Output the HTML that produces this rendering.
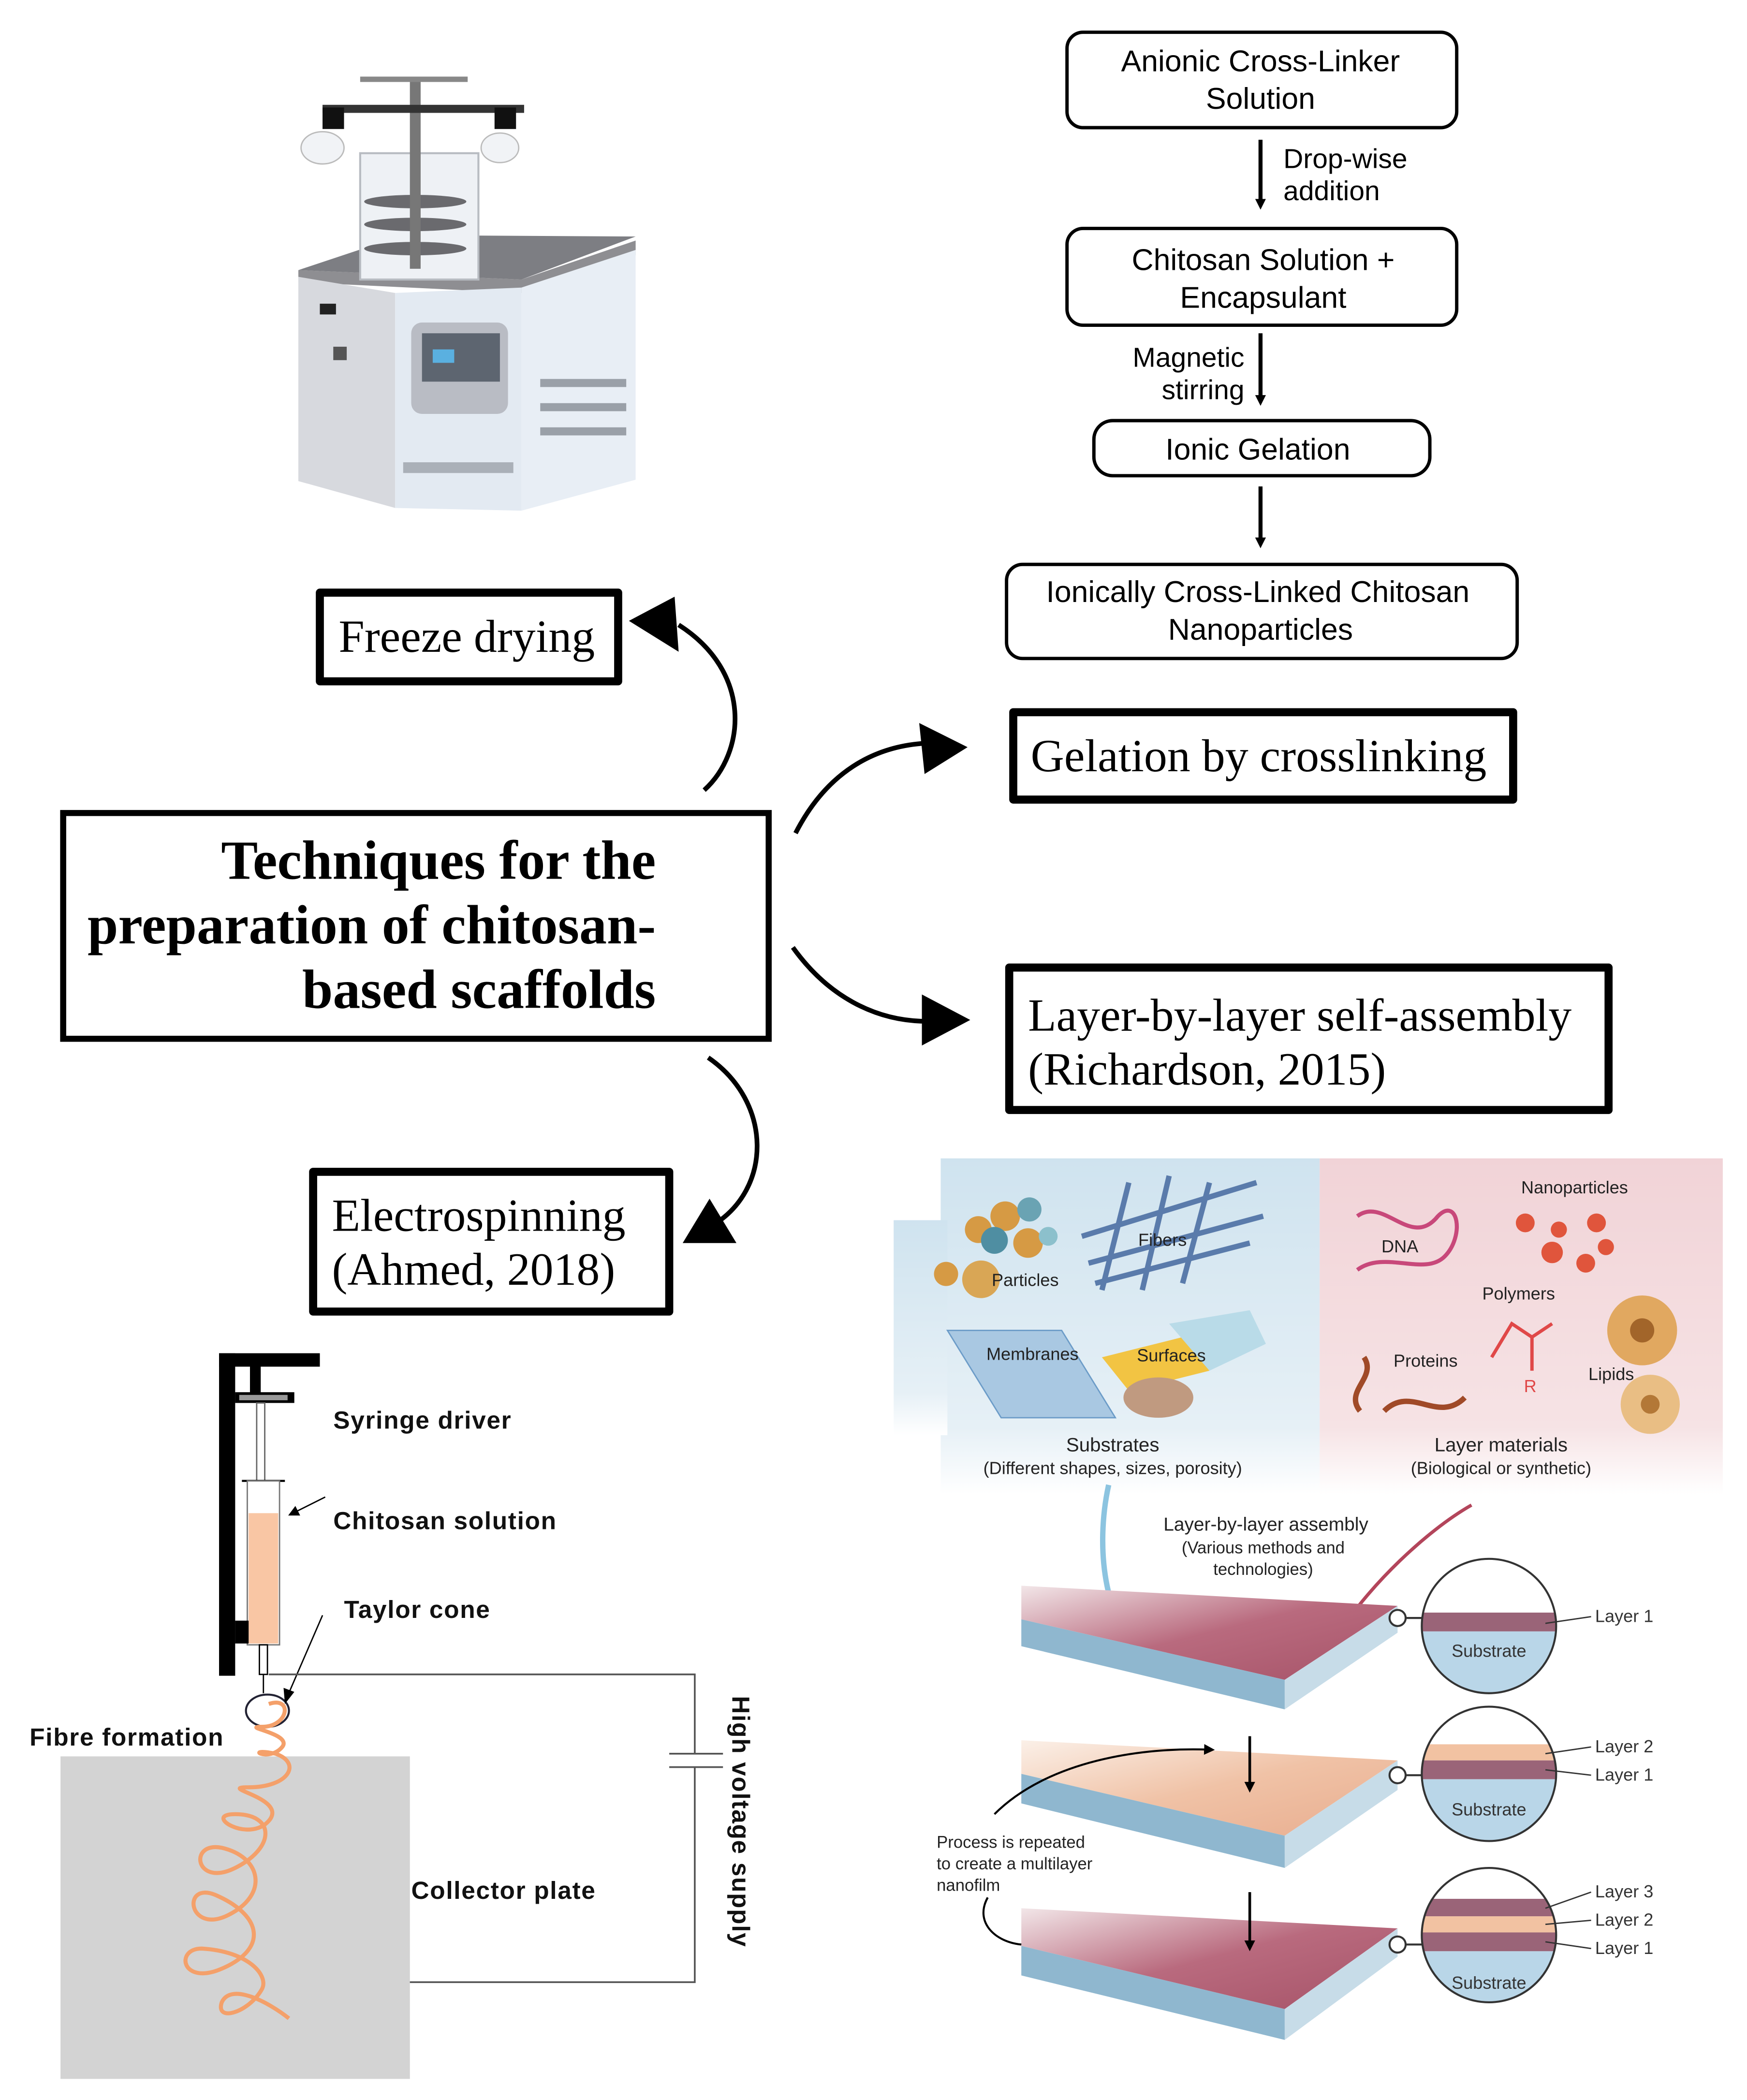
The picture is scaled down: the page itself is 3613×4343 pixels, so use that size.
<!DOCTYPE html>
<html><head><meta charset="utf-8"><style>
html,body{margin:0;padding:0;background:#fff;}
svg{display:block;}
.sa{font-family:"Liberation Sans",Arial,sans-serif;}
.se{font-family:"Liberation Serif","Times New Roman",serif;}
</style></head><body>
<svg width="3613" height="4343" viewBox="0 0 1300 1562.7" xmlns="http://www.w3.org/2000/svg">
<defs>
<marker id="ah" markerWidth="8" markerHeight="8" refX="4" refY="4" orient="auto" markerUnits="userSpaceOnUse"><path d="M0,0 L8,4 L0,8 z" fill="#000"/></marker>
<linearGradient id="bl" x1="0" y1="0" x2="0" y2="1"><stop offset="0" stop-color="#cfe3ef"/><stop offset="0.8" stop-color="#e6f0f6"/><stop offset="1" stop-color="#fff"/></linearGradient>
<linearGradient id="pk" x1="0" y1="0" x2="0" y2="1"><stop offset="0" stop-color="#f1d3d7"/><stop offset="0.8" stop-color="#f6e3e5"/><stop offset="1" stop-color="#fff"/></linearGradient>
<linearGradient id="sl1" x1="0" y1="0" x2="1" y2="1"><stop offset="0" stop-color="#f2e6e8"/><stop offset="0.5" stop-color="#b96a7e"/><stop offset="1" stop-color="#a65368"/></linearGradient>
<linearGradient id="sl2" x1="0" y1="0" x2="1" y2="1"><stop offset="0" stop-color="#fbf0e8"/><stop offset="0.5" stop-color="#f0c2a6"/><stop offset="1" stop-color="#e8ad8f"/></linearGradient>
</defs>

<!-- Freeze dryer -->
<g>
<polygon points="222,201 388,208 473,179 473,190 388,218 222,210" fill="#8e8e92"/>
<polygon points="222,201 300,175 473,176 388,208" fill="#7d7e83"/>
<polygon points="222,206 294,218 294,378 222,358" fill="#d7d9de"/>
<polygon points="294,218 388,214 388,380 294,378" fill="#e3eaf2"/>
<polygon points="388,214 473,186 473,357 388,380" fill="#e8eef5"/>
<rect x="306" y="240" width="72" height="68" rx="8" fill="#b9bcc4"/>
<rect x="314" y="248" width="58" height="36" fill="#5d6570"/>
<rect x="322" y="260" width="16" height="10" fill="#5ab0e0"/>
<rect x="300" y="344" width="82" height="8" fill="#aab0b8"/>
<rect x="402" y="282" width="64" height="6" fill="#9aa0a8"/>
<rect x="402" y="300" width="64" height="6" fill="#9aa0a8"/>
<rect x="402" y="318" width="64" height="6" fill="#9aa0a8"/>
<rect x="238" y="226" width="12" height="8" fill="#222"/>
<rect x="248" y="258" width="10" height="10" fill="#555"/>
<rect x="268" y="114" width="88" height="94" fill="#eef1f5" stroke="#b8bcc2" stroke-width="1.5"/>
<ellipse cx="309" cy="150" rx="38" ry="5" fill="#6a6a6e"/>
<ellipse cx="309" cy="167" rx="38" ry="5" fill="#6a6a6e"/>
<ellipse cx="309" cy="185" rx="38" ry="5" fill="#6a6a6e"/>
<rect x="305" y="60" width="8" height="140" fill="#777"/>
<rect x="268" y="57" width="80" height="4" fill="#888"/>
<rect x="240" y="78" width="150" height="6" fill="#333"/>
<rect x="240" y="80" width="16" height="16" fill="#111"/><rect x="368" y="80" width="16" height="16" fill="#111"/>
<ellipse cx="240" cy="110" rx="16" ry="12" fill="#f1f3f6" stroke="#bbb"/>
<ellipse cx="372" cy="110" rx="14" ry="11" fill="#f1f3f6" stroke="#bbb"/>
</g>

<!-- Top-right flowchart -->
<g class="sa" font-size="22.5" text-anchor="middle" fill="#000">
<rect x="794" y="24" width="290" height="71" rx="12" fill="#fff" stroke="#000" stroke-width="2.5"/>
<text x="938" y="53">Anionic Cross-Linker</text><text x="938" y="81">Solution</text>
<line x1="938" y1="104" x2="938" y2="152" stroke="#000" stroke-width="3" marker-end="url(#ah)"/>
<text x="955" y="125" text-anchor="start" font-size="20.5">Drop-wise</text><text x="955" y="149" text-anchor="start" font-size="20.5">addition</text>
<rect x="794" y="170" width="290" height="72" rx="12" fill="#fff" stroke="#000" stroke-width="2.5"/>
<text x="940" y="201">Chitosan Solution +</text><text x="940" y="229">Encapsulant</text>
<line x1="938" y1="248" x2="938" y2="298" stroke="#000" stroke-width="3" marker-end="url(#ah)"/>
<text x="926" y="273" text-anchor="end" font-size="20.5">Magnetic</text><text x="926" y="297" text-anchor="end" font-size="20.5">stirring</text>
<rect x="814" y="313" width="250" height="41" rx="14" fill="#fff" stroke="#000" stroke-width="2.5"/>
<text x="936" y="342">Ionic Gelation</text>
<line x1="938" y1="362" x2="938" y2="404" stroke="#000" stroke-width="3" marker-end="url(#ah)"/>
<rect x="749" y="420" width="380" height="70" rx="12" fill="#fff" stroke="#000" stroke-width="2.5"/>
<text x="936" y="448">Ionically Cross-Linked Chitosan</text><text x="938" y="476">Nanoparticles</text>
</g>

<!-- Method boxes -->
<g class="se" fill="#000">
<rect x="238" y="441" width="222" height="66" fill="#fff" stroke="#000" stroke-width="6" stroke-linejoin="round"/>
<text x="252" y="485" font-size="34.5">Freeze drying</text>
<rect x="754" y="530" width="372" height="65" fill="#fff" stroke="#000" stroke-width="6" stroke-linejoin="round"/>
<text x="767" y="574" font-size="34.5">Gelation by crosslinking</text>
<rect x="47" y="605" width="525" height="168" fill="#fff" stroke="#000" stroke-width="4.5"/>
<g font-size="41" font-weight="bold" text-anchor="end">
<text x="488" y="654">Techniques for the</text>
<text x="488" y="702">preparation of chitosan-</text>
<text x="488" y="750">based scaffolds</text>
</g>
<rect x="751" y="720" width="446" height="106" fill="#fff" stroke="#000" stroke-width="6" stroke-linejoin="round"/>
<text x="765" y="767" font-size="34.5">Layer-by-layer self-assembly</text>
<text x="765" y="807" font-size="34.5">(Richardson, 2015)</text>
<rect x="233" y="872" width="265" height="104" fill="#fff" stroke="#000" stroke-width="6" stroke-linejoin="round"/>
<text x="247" y="916" font-size="34.5">Electrospinning</text>
<text x="247" y="956" font-size="34.5">(Ahmed, 2018)</text>
</g>

<!-- curved arrows -->
<g fill="none" stroke="#000" stroke-width="3.5">
<path d="M524,588 C555,560 560,500 505,465"/>
<path d="M592,620 C615,575 650,555 690,553"/>
<path d="M590,705 C615,740 650,760 690,760"/>
<path d="M527,787 C575,820 575,885 530,912"/>
</g>
<g fill="#000">
<polygon points="468,462 502,444 505,485"/>
<polygon points="720,556 684,538 688,576"/>
<polygon points="722,759 686,740 686,778"/>
<polygon points="508,925 528,892 548,925"/>
</g>

<!-- Electrospinning diagram -->
<g>
<rect x="45" y="1307" width="260" height="240" fill="#d3d3d3"/>
<rect x="163" y="1007" width="12" height="240" fill="#000"/>
<rect x="163" y="1007" width="75" height="10" fill="#000"/>
<rect x="186" y="1010" width="8" height="30" fill="#000"/>
<rect x="175" y="1036" width="44" height="8" fill="#000"/>
<rect x="178" y="1038" width="36" height="4" fill="#999"/>
<rect x="191" y="1044" width="6" height="58" fill="#fff" stroke="#666" stroke-width="1"/>
<line x1="180" y1="1102" x2="212" y2="1102" stroke="#000" stroke-width="1.5"/>
<rect x="184" y="1102" width="24" height="122" fill="#fff" stroke="#777" stroke-width="1"/>
<rect x="185" y="1126" width="22" height="97" fill="#f9c6a4"/>
<rect x="175" y="1206" width="10" height="17" fill="#000"/>
<rect x="193" y="1224" width="6" height="22" fill="#fff" stroke="#000" stroke-width="1"/>
<ellipse cx="199" cy="1273" rx="16" ry="12" fill="none" stroke="#223" stroke-width="1.5"/>
<path d="M196,1246 L196,1260" stroke="#000" stroke-width="1"/>
<path d="M242,1114 L218,1126" stroke="#000" stroke-width="1" marker-end="url(#ah)"/>
<path d="M240,1202 L214,1262" stroke="#000" stroke-width="1"/>
<polygon points="212,1268 211,1256 219,1259" fill="#000"/>
<path d="M200,1268 C218,1262 215,1285 195,1285 C178,1285 218,1290 210,1300 C200,1312 180,1300 205,1305 C225,1312 215,1330 185,1330 C160,1330 215,1338 200,1355 C185,1372 150,1350 175,1350 C205,1350 205,1375 175,1390 C145,1405 140,1370 165,1375 C195,1382 200,1410 170,1425 C140,1440 135,1400 160,1410 C195,1425 200,1450 165,1465 C135,1478 130,1450 150,1450 C185,1452 200,1470 195,1480 C185,1498 160,1505 165,1490 C172,1475 200,1490 215,1502" fill="none" stroke="#f4a06a" stroke-width="3"/>
<path d="M200,1246 L517,1246 L517,1305 M498,1305 L538,1305 M498,1315 L538,1315 M517,1315 L517,1475 L305,1475" fill="none" stroke="#555" stroke-width="1.3"/>
<g class="sa" font-weight="bold" font-size="18.5" fill="#111" letter-spacing="0.6">
<text x="248" y="1063">Syringe driver</text>
<text x="248" y="1138">Chitosan solution</text>
<text x="256" y="1204">Taylor cone</text>
<text x="22" y="1299">Fibre formation</text>
<text x="306" y="1413">Collector plate</text>
<text transform="translate(545,1262) rotate(90)">High voltage supply</text>
</g>
</g>

<!-- Layer-by-layer illustration -->
<g class="sa">
<rect x="700" y="862" width="282" height="250" fill="url(#bl)"/>
<rect x="665" y="908" width="40" height="160" fill="url(#bl)"/>
<rect x="982" y="862" width="300" height="250" fill="url(#pk)"/>
<g>
<circle cx="728" cy="915" r="10" fill="#d69a44"/><circle cx="748" cy="905" r="11" fill="#d69a44"/>
<circle cx="766" cy="900" r="9" fill="#6aa3b3"/><circle cx="740" cy="923" r="10" fill="#4f8ea2"/>
<circle cx="765" cy="925" r="11" fill="#d69a44"/><circle cx="780" cy="920" r="7" fill="#8cc0cc"/>
<circle cx="704" cy="948" r="9" fill="#d69a44"/><circle cx="730" cy="952" r="14" fill="#d9a655"/>
</g>
<g stroke="#5a7bab" stroke-width="4" fill="none">
<path d="M805,920 L935,880"/><path d="M810,940 L940,905"/><path d="M815,955 L930,925"/>
<path d="M840,880 L820,960"/><path d="M870,875 L850,960"/><path d="M900,880 L880,955"/>
</g>
<polygon points="705,990 790,990 830,1055 745,1055" fill="#a9c8e2" stroke="#6c9cc8"/>
<polygon points="820,1010 880,995 900,1020 840,1035" fill="#f2c443"/>
<polygon points="870,985 930,975 942,1000 900,1020" fill="#b9dbe8"/>
<ellipse cx="862" cy="1040" rx="26" ry="15" fill="#c09a80"/>
<g font-size="13" fill="#222">
<text x="738" y="957">Particles</text><text x="847" y="927">Fibers</text>
<text x="734" y="1012">Membranes</text><text x="846" y="1013">Surfaces</text>
<text x="1028" y="932">DNA</text><text x="1132" y="888">Nanoparticles</text>
<text x="1103" y="967">Polymers</text><text x="1037" y="1017">Proteins</text><text x="1182" y="1027">Lipids</text>
<text x="828" y="1080" text-anchor="middle" font-size="14.5">Substrates</text>
<text x="828" y="1097" text-anchor="middle">(Different shapes, sizes, porosity)</text>
<text x="1117" y="1080" text-anchor="middle" font-size="14.5">Layer materials</text>
<text x="1117" y="1097" text-anchor="middle">(Biological or synthetic)</text>
<text x="942" y="1139" text-anchor="middle" font-size="14">Layer-by-layer assembly</text>
<text x="940" y="1156" text-anchor="middle" font-size="12.5">(Various methods and</text>
<text x="940" y="1172" text-anchor="middle" font-size="12.5">technologies)</text>
<text x="697" y="1375" font-size="12.5">Process is repeated</text>
<text x="697" y="1391" font-size="12.5">to create a multilayer</text>
<text x="697" y="1407" font-size="12.5">nanofilm</text>
</g>
<path d="M1010,905 C1030,890 1050,930 1070,905 C1085,890 1090,920 1075,935 C1060,950 1030,930 1010,945" fill="none" stroke="#c8487a" stroke-width="3"/>
<g fill="#e0553c"><circle cx="1135" cy="910" r="7"/><circle cx="1160" cy="915" r="6"/><circle cx="1188" cy="910" r="7"/><circle cx="1155" cy="932" r="8"/><circle cx="1180" cy="940" r="7"/><circle cx="1195" cy="928" r="6"/></g>
<path d="M1110,1010 L1125,985 L1140,995 L1155,985 M1140,995 L1140,1020" fill="none" stroke="#e04848" stroke-width="2.5"/>
<text x="1134" y="1036" font-size="13" fill="#e04848">R</text>
<circle cx="1222" cy="990" r="26" fill="#e1a860"/><circle cx="1222" cy="990" r="9" fill="#a2652a"/>
<circle cx="1228" cy="1045" r="22" fill="#e9be84"/><circle cx="1228" cy="1045" r="7" fill="#b37837"/>
<path d="M1012,1050 C1000,1035 1025,1025 1015,1010 M1030,1050 C1050,1030 1070,1060 1090,1040" fill="none" stroke="#a04a28" stroke-width="4"/>
<path d="M825,1105 C815,1150 820,1215 860,1238" fill="none" stroke="#8cc4e0" stroke-width="4"/>
<path d="M1095,1120 C1060,1140 1020,1180 1000,1210" fill="none" stroke="#b3455b" stroke-width="2.5" marker-end="url(#ah)"/>
<g>
<polygon points="760,1180 1040,1195 956,1250 760,1205" fill="url(#sl1)"/>
<polygon points="760,1205 956,1250 956,1272 760,1225" fill="#8fb7cf"/>
<polygon points="956,1250 1040,1195 1040,1215 956,1272" fill="#c7dce8"/>
<polygon points="760,1295 1040,1310 956,1366 760,1320" fill="url(#sl2)"/>
<polygon points="760,1320 956,1366 956,1390 760,1342" fill="#8fb7cf"/>
<polygon points="956,1366 1040,1310 1040,1332 956,1390" fill="#c7dce8"/>
<polygon points="760,1420 1040,1435 956,1495 760,1448" fill="url(#sl1)"/>
<polygon points="760,1448 956,1495 956,1518 760,1470" fill="#8fb7cf"/>
<polygon points="956,1495 1040,1435 1040,1456 956,1518" fill="#c7dce8"/>
</g>
<line x1="930" y1="1292" x2="930" y2="1330" stroke="#000" stroke-width="2" marker-end="url(#ah)"/>
<line x1="930" y1="1408" x2="930" y2="1448" stroke="#000" stroke-width="2" marker-end="url(#ah)"/>
<path d="M740,1350 C780,1310 850,1300 900,1302" fill="none" stroke="#000" stroke-width="1.5" marker-end="url(#ah)"/>
<path d="M735,1412 C725,1430 740,1445 760,1447" fill="none" stroke="#000" stroke-width="1.5"/>
<g stroke="#333" stroke-width="1.5">
<circle cx="1040" cy="1204" r="6" fill="#fff"/><line x1="1046" y1="1204" x2="1060" y2="1204"/>
<circle cx="1040" cy="1321" r="6" fill="#fff"/><line x1="1046" y1="1321" x2="1060" y2="1321"/>
<circle cx="1040" cy="1447" r="6" fill="#fff"/><line x1="1046" y1="1447" x2="1060" y2="1447"/>
</g>
<g>
<clipPath id="c1"><circle cx="1108" cy="1210" r="50"/></clipPath>
<clipPath id="c2"><circle cx="1108" cy="1320" r="50"/></clipPath>
<clipPath id="c3"><circle cx="1108" cy="1440" r="50"/></clipPath>
<g clip-path="url(#c1)"><rect x="1058" y="1160" width="100" height="100" fill="#fff"/><rect x="1058" y="1200" width="100" height="14" fill="#9a6478"/><rect x="1058" y="1214" width="100" height="50" fill="#b9d6e8"/></g>
<g clip-path="url(#c2)"><rect x="1058" y="1270" width="100" height="100" fill="#fff"/><rect x="1058" y="1298" width="100" height="12" fill="#f2c2a2"/><rect x="1058" y="1310" width="100" height="14" fill="#9a6478"/><rect x="1058" y="1324" width="100" height="50" fill="#b9d6e8"/></g>
<g clip-path="url(#c3)"><rect x="1058" y="1390" width="100" height="100" fill="#fff"/><rect x="1058" y="1413" width="100" height="13" fill="#9a6478"/><rect x="1058" y="1426" width="100" height="12" fill="#f2c2a2"/><rect x="1058" y="1438" width="100" height="14" fill="#9a6478"/><rect x="1058" y="1452" width="100" height="40" fill="#b9d6e8"/></g>
<circle cx="1108" cy="1210" r="50" fill="none" stroke="#333" stroke-width="1.5"/>
<circle cx="1108" cy="1320" r="50" fill="none" stroke="#333" stroke-width="1.5"/>
<circle cx="1108" cy="1440" r="50" fill="none" stroke="#333" stroke-width="1.5"/>
</g>
<g font-size="13" fill="#333">
<text x="1108" y="1233" text-anchor="middle">Substrate</text>
<text x="1108" y="1351" text-anchor="middle">Substrate</text>
<text x="1108" y="1480" text-anchor="middle">Substrate</text>
<text x="1187" y="1207">Layer 1</text>
<text x="1187" y="1304">Layer 2</text><text x="1187" y="1325">Layer 1</text>
<text x="1187" y="1412">Layer 3</text><text x="1187" y="1433">Layer 2</text><text x="1187" y="1454">Layer 1</text>
</g>
<g stroke="#333" stroke-width="1" fill="none">
<line x1="1150" y1="1208" x2="1184" y2="1203"/>
<line x1="1150" y1="1305" x2="1184" y2="1300"/><line x1="1150" y1="1317" x2="1184" y2="1321"/>
<line x1="1150" y1="1420" x2="1184" y2="1408"/><line x1="1150" y1="1432" x2="1184" y2="1429"/><line x1="1150" y1="1445" x2="1184" y2="1450"/>
</g>
</g>
</svg>
</body></html>
